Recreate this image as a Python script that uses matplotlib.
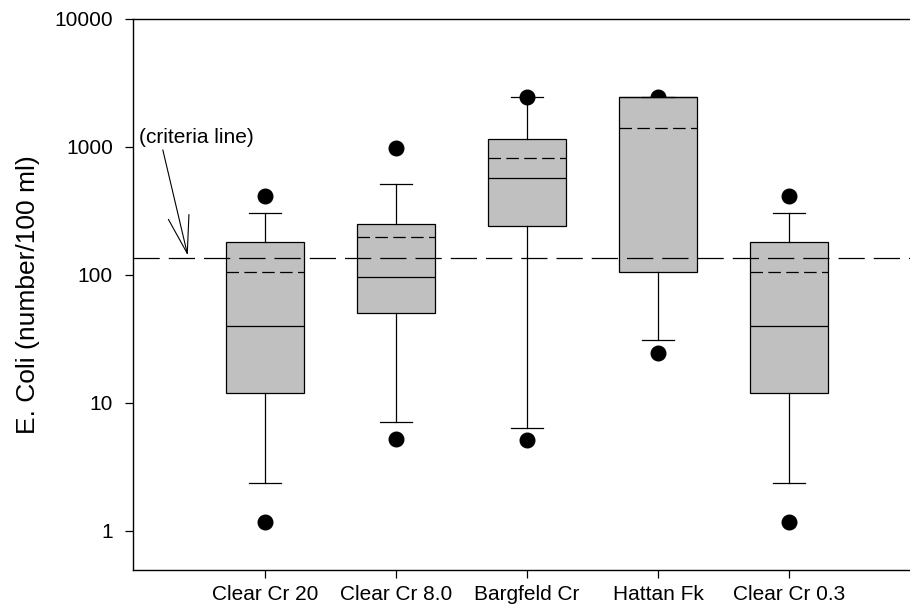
import matplotlib
matplotlib.use("Agg")
import matplotlib.pyplot as plt

plt.rcParams['font.family'] = ['Liberation Sans', 'DejaVu Sans']

# E. coli counts per site (number/100 ml)
sites = ["Clear Cr 20", "Clear Cr 8.0", "Bargfeld Cr", "Hattan Fk", "Clear Cr 0.3"]
q1 = [12, 50, 238, 106, 12]
medians = [40, 96, 565, 2420, 40]
q3 = [179, 250, 1150, 2420, 179]
means = [106, 198, 820, 1410, 106]
whisker_lo = [2.37, 7.1, 6.4, 31, 2.37]
whisker_hi = [305, 508, 2420, 2420, 305]
outlier_lo = [1.18, 5.2, 5.1, 24.4, 1.18]
outlier_hi = [414, 977, 2420, 2420, 414]
criteria = 136

yticks = [1, 10, 100, 1000, 10000]
yticklabels = ["1", "10", "100", "1000", "10000"]

stats = []
for i, name in enumerate(sites):
    stats.append(dict(label=name, q1=q1[i], med=medians[i], q3=q3[i],
                      mean=means[i], whislo=whisker_lo[i], whishi=whisker_hi[i],
                      fliers=[outlier_lo[i], outlier_hi[i]]))

fig = plt.figure(figsize=(9.1, 6.11), dpi=100)
ax = fig.add_axes([133/910, 41/611, 1 - 133/910, 551.5/611])

ax.bxp(stats, positions=range(1, 6), widths=0.6, patch_artist=True,
       showmeans=True, meanline=True,
       boxprops=dict(facecolor='#c0c0c0', edgecolor='black', linewidth=0.9, zorder=2),
       medianprops=dict(color='black', linewidth=0.9, zorder=2.1),
       meanprops=dict(color='black', linewidth=0.9, linestyle=(0, (10, 4.3)), zorder=2.1),
       whiskerprops=dict(color='black', linewidth=0.9),
       capprops=dict(color='black', linewidth=0.9),
       capwidths=0.245,
       flierprops=dict(marker='o', markersize=10.5, markerfacecolor='black',
                       markeredgecolor='black', linestyle='none', zorder=1.5))

ax.axhline(criteria, color='black', linewidth=0.9, linestyle=(0, (21, 7.2)), zorder=3)

ax.annotate("(criteria line)", xy=(0.41, criteria * 1.04), xycoords='data',
            xytext=(0.008, 0.784), textcoords='axes fraction',
            fontsize=15, ha='left', va='center',
            arrowprops=dict(arrowstyle="->,head_length=2.7,head_width=0.76",
                            mutation_scale=10, color='black', linewidth=0.8,
                            shrinkA=0, shrinkB=0,
                            relpos=(0.2, 0.0)))

ax.set_yscale('log')
ax.set_ylim(0.496, 10000)
ax.set_xlim(-0.008, 5.924)
ax.set_yticks(yticks)
ax.set_yticklabels(yticklabels)
ax.yaxis.set_minor_locator(matplotlib.ticker.NullLocator())
ax.set_xticks(range(1, 6))
ax.set_xticklabels(sites)

ax.tick_params(axis='y', direction='out', length=6, width=0.9, pad=8.5, labelsize=15)
ax.tick_params(axis='x', direction='out', length=6, width=0.9, pad=5, labelsize=15)

ax.spines['right'].set_visible(False)
for s in ['left', 'bottom', 'top']:
    ax.spines[s].set_linewidth(1.0)

ax.set_ylabel("E. Coli (number/100 ml)", fontsize=19, labelpad=10)

fig.savefig("out.png", dpi=100)
